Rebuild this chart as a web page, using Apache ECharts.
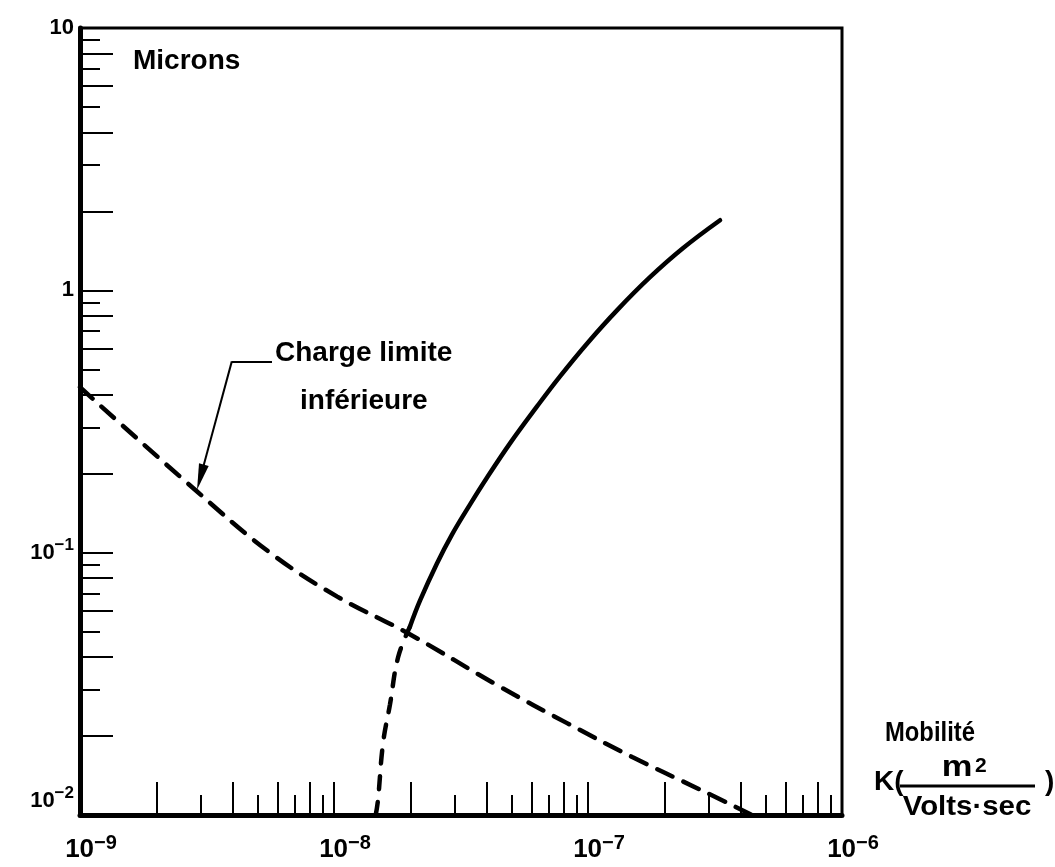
<!DOCTYPE html>
<html><head><meta charset="utf-8">
<script src="https://cdn.jsdelivr.net/npm/echarts@6/dist/echarts.min.js"></script>
<style>html,body{margin:0;padding:0;background:#fff}#c{width:1055px;height:867px}</style>
</head><body><div id="c"></div>
<script>
// Axis ranges (decades)
const xRange = [1e-9, 1e-6];
const yRange = [1e-2, 10];
// Tick label values
const xLabelValues = [1e-9, 1e-8, 1e-7, 1e-6];
const yLabelValues = [1e-2, 1e-1, 1, 10];
// Minor ticks (long / short alternate)
const xTicksLong = [2e-9,4e-9,6e-9,8e-9,1e-8,2e-8,4e-8,6e-8,8e-8,1e-7,2e-7,4e-7,6e-7,8e-7];
const xTicksShort = [3e-9,5e-9,7e-9,9e-9,3e-8,5e-8,7e-8,9e-8,3e-7,5e-7,7e-7,9e-7];
const yTicksLong = [0.02,0.04,0.06,0.08,0.1,0.2,0.4,0.6,0.8,1,2,4,6,8];
const yTicksShort = [0.03,0.05,0.07,0.09,0.3,0.5,0.7,0.9,3,5,7,9];

// "Charge limite inférieure" (dashed)
const limitK = [1e-9, 2.89e-9, 5.60e-9, 1.03e-8, 1.94e-8, 4.51e-8, 8.27e-8, 1.50e-7, 2.76e-7, 4.43e-7];
const limitD = [0.427, 0.171, 0.100, 0.068, 0.0495, 0.0308, 0.0224, 0.0166, 0.0125, 0.0100];
// Second curve: dashed lower part
const lowK = [1.46e-8, 1.49e-8, 1.56e-8, 1.66e-8, 1.79e-8, 1.99e-8];
const lowD = [0.0100, 0.0114, 0.0188, 0.0263, 0.0401, 0.0522];
// Second curve: solid part
const curveK = [1.99e-8, 2.18e-8, 2.54e-8, 2.91e-8, 3.43e-8, 4.00e-8, 4.93e-8, 6.30e-8, 7.76e-8, 1.00e-7, 1.30e-7, 1.75e-7, 2.37e-7, 3.31e-7];
const curveD = [0.0522, 0.0656, 0.0908, 0.117, 0.1525, 0.193, 0.261, 0.361, 0.470, 0.633, 0.839, 1.12, 1.45, 1.85];

// Leader/arrow annotation anchors (data space)
const leaderElbow = [3.96e-9, 0.536];
const leaderEnd = [5.70e-9, 0.536];
const arrowHead = [2.98e-9, 0.194];

const L = Math.log10;
const FONT = '"Liberation Sans", Arial, sans-serif';
const pts = (ks, ds) => ks.map((k, i) => [L(k), L(ds[i])]);

const xRich = {
  p: {width: 22, fontSize: 18, fontFamily: FONT},
  b: {fontSize: 26, fontWeight: 'bold', fontFamily: FONT, color: '#000', lineHeight: 34},
  s: {fontSize: 20, fontWeight: 'bold', fontFamily: FONT, color: '#000', lineHeight: 19, verticalAlign: 'top'}
};
const yRich = {
  b: {fontSize: 22, fontWeight: 'bold', fontFamily: FONT, color: '#000', lineHeight: 32},
  s: {fontSize: 17, fontWeight: 'bold', fontFamily: FONT, color: '#000', lineHeight: 16, verticalAlign: 'top'},
  g: {fontSize: 10, lineHeight: 28}
};
function xFmt(v) { const e = Math.round(v); return '{p| }{b|10}{s|\u2212' + (-e) + '}'; }
function yFmt(v) {
  const e = Math.round(v);
  if (e === 1) return '{b|10}';
  if (e === 0) return '{b|1}';
  if (e === -2) return '{b|10}{s|\u2212' + (-e) + '}\n{g| }';
  return '{b|10}{s|\u2212' + (-e) + '}';
}

const tickStyle = {color: '#000', width: 2};
const baseX = {type: 'value', min: L(xRange[0]), max: L(xRange[1]), position: 'bottom', splitLine: {show: false}};
const baseY = {type: 'value', min: L(yRange[0]), max: L(yRange[1]), position: 'left', splitLine: {show: false}};

const chart = echarts.init(document.getElementById('c'), null, {renderer: 'canvas'});
chart.setOption({
  animation: false,
  backgroundColor: '#fff',
  grid: {left: 80, top: 28, width: 762, height: 787, show: true, borderColor: '#000', borderWidth: 3, outerBoundsMode: 'none', containLabel: false},
  xAxis: [
    Object.assign({}, baseX, {
      axisLine: {show: true, onZero: false, lineStyle: {color: '#000', width: 5}},
      axisTick: {show: true, inside: true, length: 33, customValues: xTicksLong.map(L), lineStyle: tickStyle},
      axisLabel: {show: true, customValues: xLabelValues.map(L), formatter: xFmt, rich: xRich, margin: 18}
    }),
    Object.assign({}, baseX, {
      axisLine: {show: false, onZero: false},
      axisTick: {show: true, inside: true, length: 20, customValues: xTicksShort.map(L), lineStyle: tickStyle},
      axisLabel: {show: false}
    })
  ],
  yAxis: [
    Object.assign({}, baseY, {
      axisLine: {show: true, onZero: false, lineStyle: {color: '#000', width: 5}},
      axisTick: {show: true, inside: true, length: 33, customValues: yTicksLong.map(L), lineStyle: tickStyle},
      axisLabel: {show: true, customValues: yLabelValues.map(L), formatter: yFmt, rich: yRich, margin: 6, align: 'right'}
    }),
    Object.assign({}, baseY, {
      axisLine: {show: false, onZero: false},
      axisTick: {show: true, inside: true, length: 20, customValues: yTicksShort.map(L), lineStyle: tickStyle},
      axisLabel: {show: false}
    })
  ],
  series: [
    {
      type: 'line', name: 'limite', data: pts(limitK, limitD), smooth: 0.4, showSymbol: false, silent: true,
      lineStyle: {color: '#000', width: 4.5, type: [17, 12], cap: 'round'},
      markLine: {
        silent: true, animation: false, symbol: ['none', 'none'], label: {show: false},
        lineStyle: {color: '#000', width: 2, type: 'solid'},
        emphasis: {disabled: true},
        data: [
          [{coord: [L(leaderElbow[0]), L(leaderElbow[1])]}, {coord: [L(leaderEnd[0]), L(leaderEnd[1])]}],
          [{coord: [L(leaderElbow[0]), L(leaderElbow[1])]}, {coord: [L(arrowHead[0]), L(arrowHead[1])], symbol: 'triangle', symbolSize: [10, 26]}]
        ]
      }
    },
    {
      type: 'line', name: 'low', data: pts(lowK, lowD), smooth: 0.4, showSymbol: false, silent: true,
      lineStyle: {color: '#000', width: 4.5, type: [13, 13], cap: 'round'}
    },
    {
      type: 'line', name: 'curve', data: pts(curveK, curveD), smooth: 0.4, showSymbol: false, silent: true,
      lineStyle: {color: '#000', width: 4.5, cap: 'round'}
    }
  ],
  graphic: [
    {type: 'text', x: 133, y: 61, silent: true, style: {text: 'Microns', font: 'bold 28px ' + FONT, fill: '#000', align: 'left', verticalAlign: 'middle'}},
    {type: 'text', x: 275, y: 353, silent: true, style: {text: 'Charge limite', font: 'bold 28px ' + FONT, fill: '#000', align: 'left', verticalAlign: 'middle'}},
    {type: 'text', x: 300, y: 401, silent: true, style: {text: 'inférieure', font: 'bold 28px ' + FONT, fill: '#000', align: 'left', verticalAlign: 'middle'}},
    {type: 'text', x: 885, y: 733, scaleX: 0.85, silent: true, style: {text: 'Mobilité', font: 'bold 28px ' + FONT, fill: '#000', align: 'left', verticalAlign: 'middle'}},
    {type: 'text', x: 874, y: 782, silent: true, style: {text: 'K(', font: 'bold 28px ' + FONT, fill: '#000', align: 'left', verticalAlign: 'middle'}},
    {type: 'text', x: 1045, y: 782, silent: true, style: {text: ')', font: 'bold 28px ' + FONT, fill: '#000', align: 'left', verticalAlign: 'middle'}},
    {type: 'line', silent: true, shape: {x1: 900, y1: 786, x2: 1035, y2: 786}, style: {stroke: '#000', lineWidth: 3}},
    {type: 'text', x: 957, y: 768, scaleX: 1.15, silent: true, style: {text: 'm', font: 'bold 30px ' + FONT, fill: '#000', align: 'center', verticalAlign: 'middle'}},
    {type: 'text', x: 975, y: 756, silent: true, style: {text: '2', font: 'bold 21px ' + FONT, fill: '#000', align: 'left', verticalAlign: 'top'}},
    {type: 'text', x: 967, y: 807, scaleX: 1.05, silent: true, style: {text: 'Volts·sec', font: 'bold 28px ' + FONT, fill: '#000', align: 'center', verticalAlign: 'middle'}}
  ]
});
</script>
</body></html>
